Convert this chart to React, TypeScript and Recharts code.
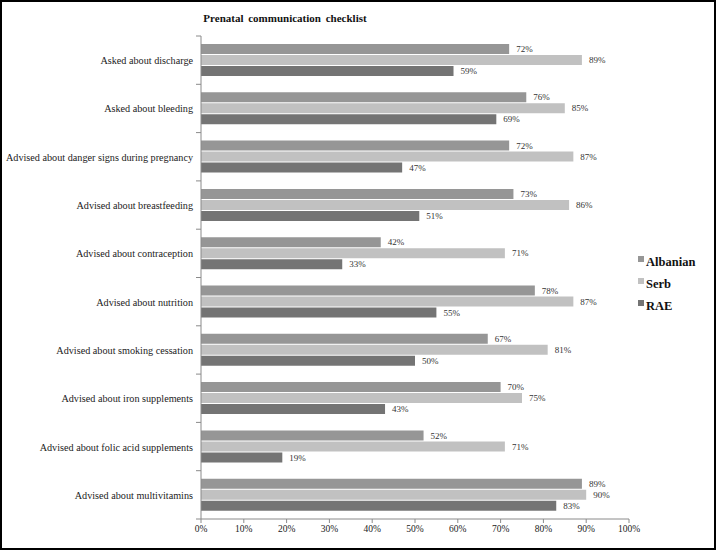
import React from 'react';
import { BarChart, Bar, XAxis, YAxis, Legend, LabelList } from 'recharts';

const categories = [
  'Asked about discharge',
  'Asked about bleeding',
  'Advised about danger signs during pregnancy',
  'Advised about breastfeeding',
  'Advised about contraception',
  'Advised about nutrition',
  'Advised about smoking cessation',
  'Advised about iron supplements',
  'Advised about folic acid supplements',
  'Advised about multivitamins',
];
const albanian = [72, 76, 72, 73, 42, 78, 67, 70, 52, 89];
const serb = [89, 85, 87, 86, 71, 87, 81, 75, 71, 90];
const rae = [59, 69, 47, 51, 33, 55, 50, 43, 19, 83];
const xTicks = [0, 10, 20, 30, 40, 50, 60, 70, 80, 90, 100];

const series = [
  { key: 'Albanian', values: albanian, color: '#969696' },
  { key: 'Serb', values: serb, color: '#c1c1c1' },
  { key: 'RAE', values: rae, color: '#747474' },
];

const data = categories.map((name, i) => ({
  name,
  Albanian: albanian[i],
  Serb: serb[i],
  RAE: rae[i],
}));

const FONT = '"Liberation Serif", "DejaVu Serif", serif';

const CategoryTick = (props: any) => {
  const { x, y, payload, index } = props;
  const half = payload?.offset || 24.15;
  const axisX = x + 8;
  return (
    <g>
      <text x={x} y={y} dy={4} textAnchor="end" fontSize={10.2} fill="#222" fontFamily={FONT}>
        {payload.value}
      </text>
      <line x1={axisX - 5} x2={axisX} y1={y - half} y2={y - half} stroke="#8a8a8a" />
      {index === categories.length - 1 && (
        <line x1={axisX - 5} x2={axisX} y1={y + half} y2={y + half} stroke="#8a8a8a" />
      )}
    </g>
  );
};

const LegendBox = () => (
  <div style={{ fontFamily: FONT, fontWeight: 'bold', fontSize: 12.5, color: '#111' }}>
    {series.map((s) => (
      <div key={s.key} style={{ display: 'flex', alignItems: 'center', height: 22 }}>
        <span
          style={{ display: 'inline-block', width: 6, height: 6, background: s.color, marginRight: 2, marginTop: -6 }}
        />
        {s.key}
      </div>
    ))}
  </div>
);

export default function App() {
  return (
    <div style={{ position: 'absolute', left: 0, top: 0, width: 716, height: 550, background: '#fff' }}>
      <div
        style={{
          position: 'absolute',
          left: 0,
          top: 12,
          width: 570,
          textAlign: 'center',
          fontFamily: FONT,
          fontWeight: 'bold',
          fontSize: 11,
          color: '#111',
          wordSpacing: 2,
        }}
      >
        Prenatal  communication checklist
      </div>
      <BarChart
        width={716}
        height={550}
        data={data}
        layout="vertical"
        margin={{ top: 36, right: 7, bottom: 11, left: 0 }}
        barCategoryGap="15%"
        barGap={1}
      >
        <XAxis
          type="number"
          domain={[0, 100]}
          ticks={xTicks}
          tickFormatter={(v: number) => `${v}%`}
          axisLine={{ stroke: '#8a8a8a' }}
          tickLine={{ stroke: '#8a8a8a' }}
          tickSize={4}
          tick={{ fontSize: 9.5, fill: '#222', fontFamily: FONT }}
          height={20}
        />
        <YAxis
          type="category"
          dataKey="name"
          width={201}
          axisLine={{ stroke: '#8a8a8a' }}
          tickLine={false}
          tickSize={0}
          tickMargin={8}
          tick={<CategoryTick />}
          interval={0}
        />
        <Legend
          layout="vertical"
          align="right"
          verticalAlign="top"
          content={<LegendBox />}
          wrapperStyle={{ left: 638, top: 251, width: 80 }}
        />
        {series.map((s) => (
          <Bar key={s.key} dataKey={s.key} fill={s.color} barSize={10} isAnimationActive={false}>
            <LabelList
              dataKey={s.key}
              position="right"
              offset={7}
              formatter={(v: any) => `${v}%`}
              style={{ fontSize: 9, fill: '#333', fontFamily: FONT }}
            />
          </Bar>
        ))}
      </BarChart>
      <div
        style={{
          position: 'absolute',
          left: 0,
          top: 0,
          width: 716,
          height: 550,
          boxSizing: 'border-box',
          border: '2px solid #000',
          pointerEvents: 'none',
        }}
      />
    </div>
  );
}
